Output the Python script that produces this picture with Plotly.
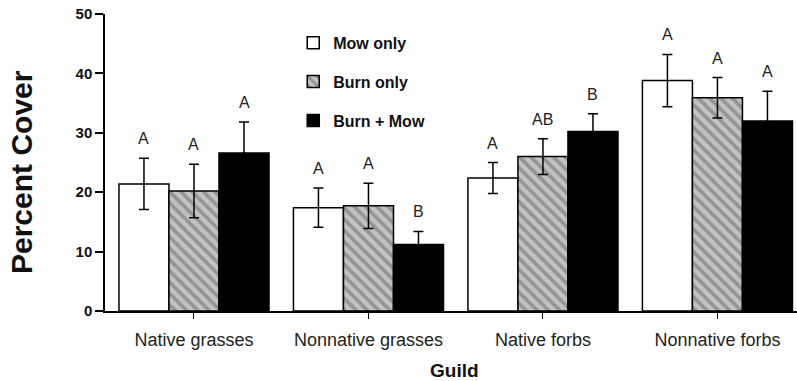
import plotly.graph_objects as go

guilds = ["Native grasses", "Nonnative grasses", "Native forbs", "Nonnative forbs"]
treatments = ["Mow only", "Burn only", "Burn + Mow"]

mow_only = [21.4, 17.4, 22.4, 38.8]
mow_only_err = [4.3, 3.3, 2.6, 4.4]
burn_only = [20.2, 17.7, 26.0, 35.9]
burn_only_err = [4.5, 3.8, 3.0, 3.4]
burn_mow = [26.6, 11.2, 30.2, 32.0]
burn_mow_err = [5.2, 2.2, 3.0, 5.0]

mow_letters = ["A", "A", "A", "A"]
burn_letters = ["A", "A", "AB", "A"]
burnmow_letters = ["A", "B", "B", "A"]

yticks = [0, 10, 20, 30, 40, 50]

series = [
    (treatments[0], mow_only, mow_only_err, mow_letters),
    (treatments[1], burn_only, burn_only_err, burn_letters),
    (treatments[2], burn_mow, burn_mow_err, burnmow_letters),
]

styles = [
    dict(color="white"),
    dict(color="#bdbdbd", pattern=dict(shape="\\", size=8, solidity=0.45,
                                        fgcolor="#666666", bgcolor="#c2c2c2")),
    dict(color="black"),
]

FONT = "Arial, Liberation Sans, sans-serif"

fig = go.Figure()
for k, (name, vals, errs, _) in enumerate(series):
    fig.add_trace(go.Bar(
        name=name, x=list(range(len(guilds))), y=vals,
        legendgroup=name,
        marker=dict(**styles[k], line=dict(color="black", width=1.5)),
        error_y=dict(type="data", array=errs, visible=True, color="black",
                     thickness=1.5, width=5),
    ))

bargap = 0.14
bw = (1 - bargap) / 3
for k, (name, vals, errs, letters) in enumerate(series):
    for i, (v, e, t) in enumerate(zip(vals, errs, letters)):
        fig.add_annotation(
            x=i + (k - 1) * bw, y=v + e, xref="x", yref="y", text=t,
            showarrow=False, yanchor="bottom", yshift=9,
            font=dict(family=FONT, size=16, color="#222"),
        )

fig.add_annotation(x=0.5, y=0, xref="paper", yref="paper", text="<b>Guild</b>",
                   showarrow=False, yanchor="middle", yshift=-59, xshift=3,
                   font=dict(family=FONT, size=19, color="#111"))
fig.add_annotation(x=-0.1214, y=0.468, xref="paper", yref="paper",
                   text="<b>Percent Cover</b>", textangle=-90, showarrow=False,
                   xanchor="center", yanchor="middle",
                   font=dict(family=FONT, size=30, color="#111"))

fig.update_layout(
    width=797, height=381,
    margin=dict(l=105, r=0, t=14, b=70, autoexpand=False),
    paper_bgcolor="white", plot_bgcolor="white",
    barmode="group", bargap=bargap, bargroupgap=0,
    showlegend=True,
    legend=dict(x=0.272, y=0.96, xanchor="left", yanchor="top",
                font=dict(family=FONT, size=16, color="#111", weight="bold"),
                tracegroupgap=15, bgcolor="rgba(0,0,0,0)", traceorder="grouped"),
    font=dict(family=FONT),
)

fig.update_xaxes(
    tickmode="array", tickvals=list(range(len(guilds))), ticktext=guilds,
    range=[-0.51, 3.456], showline=True, linecolor="black", linewidth=1.5,
    ticks="outside", ticklen=6, tickwidth=1, tickcolor="black",
    ticklabelstandoff=6,
    tickfont=dict(family=FONT, size=18, color="#222"),
    showgrid=False, zeroline=False,
)
fig.update_yaxes(
    range=[0, 50], tickmode="array", tickvals=yticks,
    showline=True, linecolor="black", linewidth=1.5,
    ticks="outside", ticklen=8, tickwidth=1.5, tickcolor="black",
    tickfont=dict(family=FONT, size=15, color="#111", weight="bold"),
    showgrid=False, zeroline=False,
)

fig.write_html("out.html", config={"displayModeBar": False},
               post_script="document.body.style.margin='0';")
